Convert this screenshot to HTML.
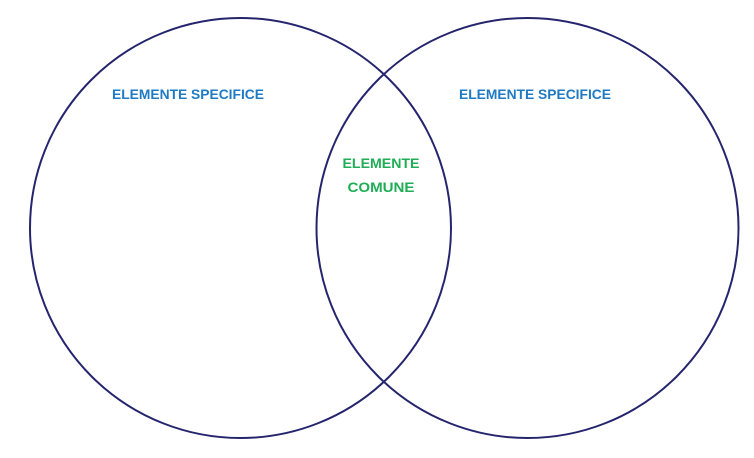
<!DOCTYPE html>
<html><head><meta charset="utf-8"><style>
html,body{margin:0;padding:0;background:#fff;width:754px;height:458px;overflow:hidden}
svg{display:block}
text{font-family:"Liberation Sans",sans-serif;font-weight:bold;font-size:14px}
</style></head><body>
<svg width="754" height="458" viewBox="0 0 754 458">
<ellipse cx="240.5" cy="228" rx="210.5" ry="210" fill="none" stroke="#25256e" stroke-width="2"/>
<ellipse cx="527.5" cy="228" rx="211" ry="210" fill="none" stroke="#25256e" stroke-width="2"/>
<text x="188" y="99" fill="#1f7ac4" text-anchor="middle" textLength="152" lengthAdjust="spacingAndGlyphs">ELEMENTE SPECIFICE</text>
<text x="535" y="99" fill="#1f7ac4" text-anchor="middle" textLength="152" lengthAdjust="spacingAndGlyphs">ELEMENTE SPECIFICE</text>
<text x="381" y="168" fill="#1fae55" text-anchor="middle" textLength="77" lengthAdjust="spacingAndGlyphs">ELEMENTE</text>
<text x="381" y="192" fill="#1fae55" text-anchor="middle" textLength="67" lengthAdjust="spacingAndGlyphs">COMUNE</text>
</svg>
</body></html>
